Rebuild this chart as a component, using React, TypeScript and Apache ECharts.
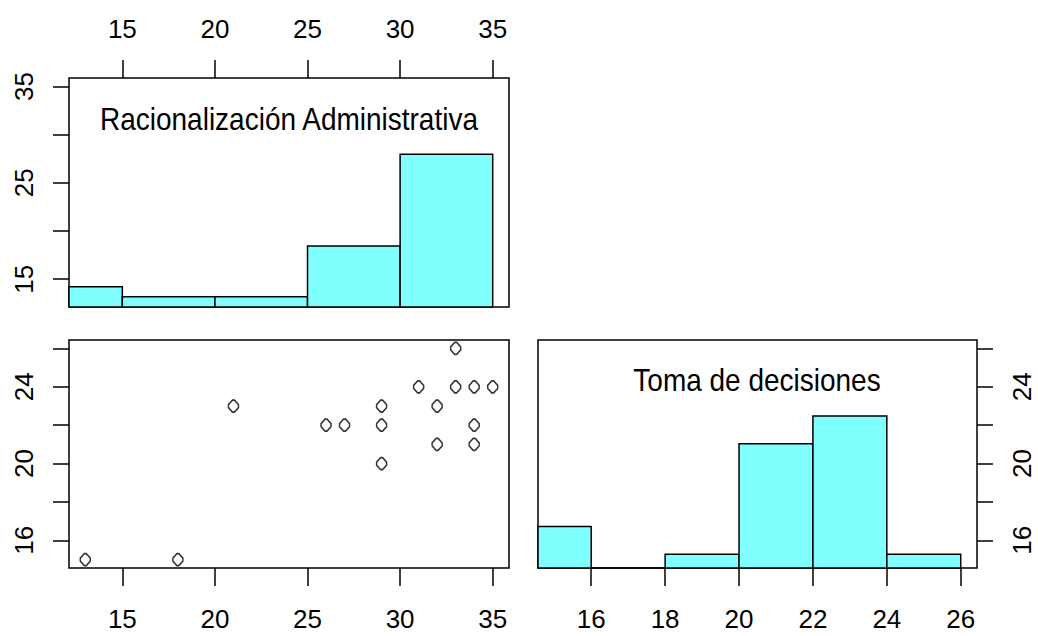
import React, { useEffect, useRef } from "react";
import * as echarts from "echarts";

// Scatter data (unique visible points): Racionalización Administrativa (x) vs Toma de decisiones (y)
const racValues = [13, 18, 21, 26, 27, 29, 29, 29, 31, 32, 32, 33, 33, 34, 34, 34, 35];
const tomaValues = [15, 15, 23, 22, 22, 23, 22, 20, 24, 23, 21, 26, 24, 24, 22, 21, 24];

// Histogram breaks and counts
const racBreaks = [10, 15, 20, 25, 30, 35];
const racCounts = [4, 2, 2, 12, 30];
const tomaBreaks = [14, 16, 18, 20, 22, 24, 26];
const tomaCounts = [6, 0, 2, 18, 22, 2];

// Tick values and labels
const racTicks = [15, 20, 25, 30, 35];
const racLeftLabels = [15, 25, 35];
const tomaTicks = [16, 18, 20, 22, 24, 26];
const tomaSideLabels = [16, 20, 24];

const racTitle = "Racionalización Administrativa";
const tomaTitle = "Toma de decisiones";

const FONT = "Liberation Sans, Arial, sans-serif";
const MARKER = "path://M4,0 L6,0 L10,4.5 L10,7.5 L6,12 L4,12 L0,7.5 L0,4.5 Z";

function ext(vals: number[]) {
  const mn = Math.min(...vals);
  const mx = Math.max(...vals);
  const p = (mx - mn) * 0.04;
  return [mn - p, mx + p];
}

function histData(breaks: number[], counts: number[]) {
  const m = Math.max(...counts);
  return counts.map((c, i) => [breaks[i], breaks[i + 1], c / m]);
}

const histRender = (params: any, api: any) => {
  const x0 = api.value(0);
  const x1 = api.value(1);
  const h = api.value(2);
  const p0 = api.coord([x0, 0]);
  const p1 = api.coord([x1, h]);
  const rect = { x: p0[0], y: p1[1], width: p1[0] - p0[0], height: p0[1] - p1[1] };
  const cs = params.coordSys;
  const clipped = echarts.graphic.clipRectByRect(rect, {
    x: cs.x,
    y: cs.y,
    width: cs.width,
    height: cs.height,
  });
  if (!clipped) return null;
  return {
    type: "rect",
    shape: clipped,
    style: { fill: "#80ffff", stroke: "#000", lineWidth: 1.5 },
  };
};

export default function App() {
  const ref = useRef<HTMLDivElement>(null);
  useEffect(() => {
    if (!ref.current) return;
    const chart = echarts.init(ref.current, null, { renderer: "svg" });
    const [xMin, xMax] = ext(racValues);
    const [yMin, yMax] = ext(tomaValues);

    const tickH = { show: true, length: 18, lineStyle: { color: "#000", width: 1.5 } };
    const tickV = { show: true, length: 16, lineStyle: { color: "#000", width: 1.5 } };
    const lblBase = { fontSize: 26, color: "#000", fontFamily: FONT };
    const noLine = { show: false, onZero: false };
    const hidden = {
      show: false,
      axisLine: noLine,
      axisTick: { show: false },
      axisLabel: { show: false },
      splitLine: { show: false },
    };
    const gridStyle = { show: true, borderColor: "#000", borderWidth: 1.5, backgroundColor: "transparent" };

    chart.setOption({
      animation: false,
      backgroundColor: "#fff",
      grid: [
        { left: 69, top: 78, width: 440, height: 229, ...gridStyle },
        { left: 69, top: 340, width: 440, height: 228, ...gridStyle },
        { left: 538, top: 340, width: 439, height: 228, ...gridStyle },
      ],
      xAxis: [
        {
          type: "value", gridIndex: 0, position: "top", min: xMin, max: xMax,
          axisLine: noLine, splitLine: { show: false },
          axisTick: { ...tickH, customValues: racTicks },
          axisLabel: { ...lblBase, margin: 36, customValues: racTicks },
        },
        {
          type: "value", gridIndex: 1, position: "bottom", min: xMin, max: xMax,
          axisLine: noLine, splitLine: { show: false },
          axisTick: { ...tickH, customValues: racTicks },
          axisLabel: { ...lblBase, margin: 38, customValues: racTicks },
        },
        {
          type: "value", gridIndex: 2, position: "bottom", min: yMin, max: yMax,
          axisLine: noLine, splitLine: { show: false },
          axisTick: { ...tickH, customValues: tomaTicks },
          axisLabel: { ...lblBase, margin: 38, customValues: tomaTicks },
        },
      ],
      yAxis: [
        {
          type: "value", gridIndex: 0, position: "left", min: xMin, max: xMax,
          axisLine: noLine, splitLine: { show: false },
          axisTick: { ...tickV, customValues: racTicks },
          axisLabel: { ...lblBase, margin: 32, rotate: 90, customValues: racLeftLabels },
        },
        { type: "value", gridIndex: 0, min: 0, max: 1.5, ...hidden },
        {
          type: "value", gridIndex: 1, position: "left", min: yMin, max: yMax,
          axisLine: noLine, splitLine: { show: false },
          axisTick: { ...tickV, customValues: tomaTicks },
          axisLabel: { ...lblBase, margin: 32, rotate: 90, customValues: tomaSideLabels },
        },
        {
          type: "value", gridIndex: 2, position: "right", min: yMin, max: yMax,
          axisLine: noLine, splitLine: { show: false },
          axisTick: { ...tickV, customValues: tomaTicks },
          axisLabel: { ...lblBase, margin: 32, rotate: 90, customValues: tomaSideLabels },
        },
        { type: "value", gridIndex: 2, min: 0, max: 1.5, ...hidden },
      ],
      series: [
        {
          type: "custom",
          xAxisIndex: 0,
          yAxisIndex: 1,
          renderItem: histRender,
          encode: { x: [0, 1], y: 2 },
          data: histData(racBreaks, racCounts),
          silent: true,
          z: 1,
        },
        {
          type: "custom",
          xAxisIndex: 2,
          yAxisIndex: 4,
          renderItem: histRender,
          encode: { x: [0, 1], y: 2 },
          data: histData(tomaBreaks, tomaCounts),
          silent: true,
          z: 1,
        },
        {
          type: "scatter",
          xAxisIndex: 1,
          yAxisIndex: 2,
          symbol: MARKER,
          symbolSize: [10, 12],
          itemStyle: { color: "#fff", borderColor: "#000", borderWidth: 1.6 },
          data: racValues.map((v, i) => [v, tomaValues[i]]),
          z: 3,
        },
      ],
      graphic: [
        {
          type: "text",
          x: 289,
          y: 119,
          scaleY: 1.15,
          style: {
            text: racTitle,
            fontSize: 28,
            fontFamily: FONT,
            fill: "#000",
            align: "center",
            verticalAlign: "middle",
          },
          z: 10,
        },
        {
          type: "text",
          x: 757,
          y: 380,
          scaleY: 1.15,
          style: {
            text: tomaTitle,
            fontSize: 28,
            fontFamily: FONT,
            fill: "#000",
            align: "center",
            verticalAlign: "middle",
          },
          z: 10,
        },
      ],
    });
    return () => chart.dispose();
  }, []);
  return (
    <div
      ref={ref}
      style={{ position: "fixed", left: 0, top: 0, width: 1038, height: 636 }}
    />
  );
}
